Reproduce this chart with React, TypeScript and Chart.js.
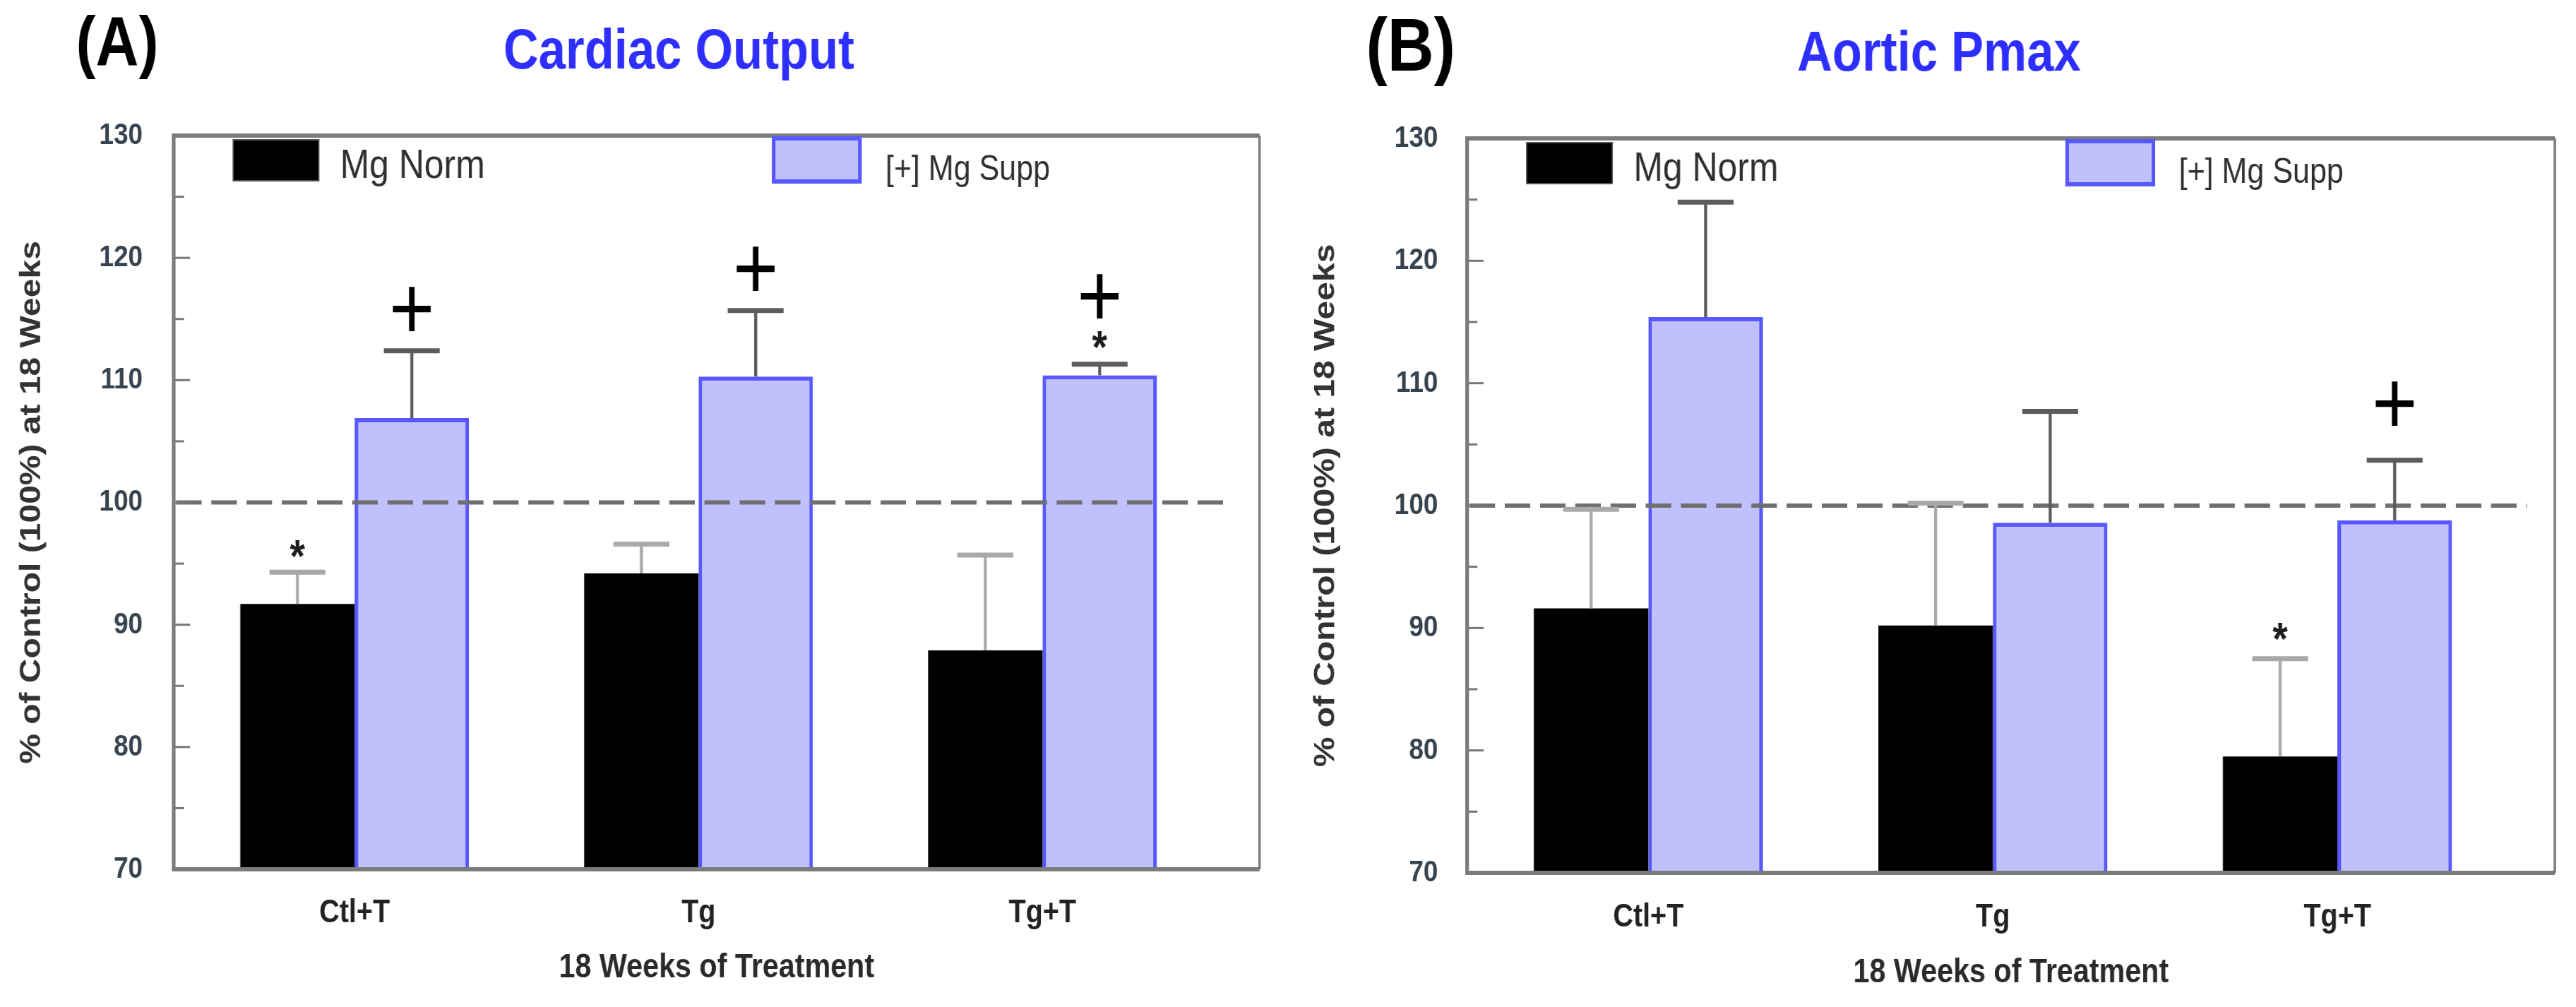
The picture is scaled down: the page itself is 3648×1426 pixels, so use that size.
import React, { useEffect, useRef } from "react";
import { Chart, registerables } from "chart.js";

Chart.register(...registerables);

// ---------- data ----------
const categories = ["Ctl+T", "Tg", "Tg+T"];
const seriesLabels = ["Mg Norm", "[+] Mg Supp"];
const yMin = 70;
const yMax = 130;
const yStep = 10;
const refValue = 100;

// Panel A: Cardiac Output
const coNorm = [91.7, 94.2, 87.9];
const coNormErr = [94.3, 96.6, 95.7];
const coSupp = [106.9, 110.3, 110.4];
const coSuppErr = [112.4, 115.7, 111.3];
const coPlusSupp = [115.9, 119.2, 116.9];
const coStarNorm = [96.4, null, null];
const coStarSupp = [null, null, 113.5];

// Panel B: Aortic Pmax
const apNorm = [91.6, 90.2, 79.5];
const apNormErr = [99.7, 100.2, 87.5];
const apSupp = [115.4, 98.6, 98.8];
const apSuppErr = [124.8, 107.7, 103.7];
const apPlusSupp = [null, null, 108.4];
const apStarNorm = [null, null, 89.9];
const apStarSupp = [null, null, null];

// ---------- layout / style ----------
const SQ = 0.86; // horizontal compression of the original figure
const PAGE_W = 3648;
const PAGE_H = 1426;
const CW = Math.round(PAGE_W / 2 / SQ);
const FONT = "'Liberation Sans', Arial, Helvetica, sans-serif";
const BLUE_FILL = "rgb(192,192,252)";
const BLUE_EDGE = "rgb(88,88,255)";

type PanelCfg = {
  offset: number;
  plotLeft: number;
  plotTop: number;
  plotBottom: number;
  rightPad: number;
  yTickPad: number;
  yTitlePad: number;
  xTickPad: number;
  xTitlePad: number;
  tag: string;
  tagX: number;
  tagY: number;
  tagSize: number;
  title: string;
  titleX: number;
  titleY: number;
  norm: number[];
  normErr: number[];
  supp: number[];
  suppErr: number[];
  plus: (number | null)[][];
  star: (number | null)[][];
};

const panels: PanelCfg[] = [
  {
    offset: 0,
    plotLeft: 286,
    plotTop: 192,
    plotBottom: 1231,
    rightPad: 47,
    yTickPad: 51,
    yTitlePad: 24,
    xTickPad: 35,
    xTitlePad: 26,
    tag: "(A)",
    tagX: 193,
    tagY: 92,
    tagSize: 98,
    title: "Cardiac Output",
    titleX: 1118,
    titleY: 97,
    norm: coNorm,
    normErr: coNormErr,
    supp: coSupp,
    suppErr: coSuppErr,
    plus: [[null, null, null], coPlusSupp],
    star: [coStarNorm, coStarSupp],
  },
  {
    offset: PAGE_W / 2,
    plotLeft: 295,
    plotTop: 196,
    plotBottom: 1236,
    rightPad: 35,
    yTickPad: 48,
    yTitlePad: 34,
    xTickPad: 36,
    xTitlePad: 19,
    tag: "(B)",
    tagX: 202,
    tagY: 100,
    tagSize: 106,
    title: "Aortic Pmax",
    titleX: 1072,
    titleY: 100,
    norm: apNorm,
    normErr: apNormErr,
    supp: apSupp,
    suppErr: apSuppErr,
    plus: [[null, null, null], apPlusSupp],
    star: [apStarNorm, apStarSupp],
  },
];

function decorPlugin(p: PanelCfg) {
  const errs = [p.normErr, p.suppErr];
  const errColors = ["#a9a9a9", "#5c5c5c"];
  return {
    id: "panelDecor",
    afterDatasetsDraw(chart: any) {
      const ctx = chart.ctx as CanvasRenderingContext2D;
      const { left, right, top, bottom } = chart.chartArea;
      const ys = chart.scales.y;
      ctx.save();

      // reference dashed line at 100 %
      const yr = ys.getPixelForValue(refValue);
      ctx.beginPath();
      ctx.setLineDash([42, 16]);
      ctx.lineWidth = 6;
      ctx.strokeStyle = "#6f6f6f";
      ctx.moveTo(left + 4, yr);
      ctx.lineTo(right - 46, yr);
      ctx.stroke();
      ctx.setLineDash([]);

      // error bars (upper only)
      errs.forEach((arr, di) => {
        const meta = chart.getDatasetMeta(di);
        meta.data.forEach((bar: any, i: number) => {
          const v = arr[i];
          if (v == null) return;
          const yc = ys.getPixelForValue(v);
          ctx.strokeStyle = errColors[di];
          ctx.lineWidth = 5;
          ctx.beginPath();
          ctx.moveTo(bar.x, bar.y);
          ctx.lineTo(bar.x, yc);
          ctx.stroke();
          ctx.lineWidth = 7;
          ctx.beginPath();
          ctx.moveTo(bar.x - 46, yc);
          ctx.lineTo(bar.x + 46, yc);
          ctx.stroke();
        });
      });

      // significance marks
      ctx.textAlign = "center";
      ctx.textBaseline = "alphabetic";
      p.plus.forEach((arr, di) => {
        const meta = chart.getDatasetMeta(di);
        arr.forEach((v, i) => {
          if (v == null) return;
          const bar = meta.data[i];
          ctx.fillStyle = "#000";
          ctx.font = `normal 128px ${FONT}`;
          ctx.fillText("+", bar.x, ys.getPixelForValue(v) + 0.34 * 128);
        });
      });
      p.star.forEach((arr, di) => {
        const meta = chart.getDatasetMeta(di);
        arr.forEach((v, i) => {
          if (v == null) return;
          const bar = meta.data[i];
          ctx.fillStyle = "#1e1e1e";
          ctx.font = `bold 64px ${FONT}`;
          ctx.fillText("*", bar.x, ys.getPixelForValue(v) + 0.56 * 64);
        });
      });

      // minor / major inside ticks on the left axis
      ctx.strokeStyle = "#777";
      ctx.lineWidth = 3;
      for (let v = yMin + 5; v < yMax; v += 5) {
        const yy = ys.getPixelForValue(v);
        const len = v % 10 === 0 ? 27 : 17;
        ctx.beginPath();
        ctx.moveTo(left, yy);
        ctx.lineTo(left + len, yy);
        ctx.stroke();
      }

      // frame
      ctx.strokeStyle = "#7b7b7b";
      ctx.lineWidth = 6;
      ctx.beginPath();
      ctx.moveTo(right, top);
      ctx.lineTo(left, top);
      ctx.lineTo(left, bottom);
      ctx.lineTo(right, bottom);
      ctx.stroke();
      ctx.lineWidth = 4;
      ctx.beginPath();
      ctx.moveTo(right, top);
      ctx.lineTo(right, bottom);
      ctx.stroke();

      // legend (inside plot area)
      const ds = chart.data.datasets;
      ctx.fillStyle = ds[0].backgroundColor;
      ctx.fillRect(left + 98, top + 6, 141, 58);
      ctx.strokeStyle = "#555";
      ctx.lineWidth = 2;
      ctx.strokeRect(left + 98, top + 6, 141, 58);
      ctx.fillStyle = ds[1].backgroundColor;
      ctx.fillRect(left + 988, top + 4, 142, 61);
      ctx.strokeStyle = ds[1].borderColor;
      ctx.lineWidth = 6;
      ctx.strokeRect(left + 988, top + 4, 142, 61);

      ctx.textAlign = "left";
      ctx.fillStyle = "#303030";
      ctx.font = `normal 58px ${FONT}`;
      ctx.fillText(ds[0].label, left + 274, top + 60);
      ctx.font = `normal 50px ${FONT}`;
      ctx.fillText(ds[1].label, left + 1172, top + 63);

      ctx.restore();
    },
    afterDraw(chart: any) {
      const ctx = chart.ctx as CanvasRenderingContext2D;
      ctx.save();
      ctx.textAlign = "center";
      ctx.textBaseline = "alphabetic";
      ctx.fillStyle = "#000";
      ctx.font = `bold ${p.tagSize}px ${FONT}`;
      ctx.fillText(p.tag, p.tagX, p.tagY);
      ctx.fillStyle = "#2e2eff";
      ctx.font = `bold 80px ${FONT}`;
      ctx.fillText(p.title, p.titleX, p.titleY);
      ctx.restore();
    },
  };
}

function Panel({ p }: { p: PanelCfg }) {
  const ref = useRef<HTMLCanvasElement | null>(null);
  useEffect(() => {
    if (!ref.current) return;
    const toXY = (arr: number[]) => arr.map((v, i) => ({ x: i + 1, y: v }));
    const chart = new Chart(ref.current, {
      type: "bar",
      data: {
        datasets: [
          {
            label: seriesLabels[0],
            data: toXY(p.norm),
            backgroundColor: "#000000",
            borderWidth: 0,
            categoryPercentage: 0.665,
            barPercentage: 1,
          },
          {
            label: seriesLabels[1],
            data: toXY(p.supp),
            backgroundColor: BLUE_FILL,
            borderColor: BLUE_EDGE,
            borderWidth: 6,
            borderSkipped: "bottom",
            categoryPercentage: 0.665,
            barPercentage: 1,
          },
        ] as any,
      },
      options: {
        animation: false,
        responsive: false,
        events: [],
        layout: { padding: { left: 0, top: p.plotTop, right: p.rightPad, bottom: 0 } },
        plugins: { legend: { display: false }, tooltip: { enabled: false }, title: { display: false } },
        scales: {
          x: {
            type: "linear",
            offset: false,
            bounds: "ticks",
            min: 0.474,
            max: 3.631,
            afterBuildTicks: (s: any) => {
              s.ticks = categories.map((_, i) => ({ value: i + 1 }));
            },
            afterFit: (s: any) => {
              s.height = PAGE_H - p.plotBottom;
            },
            ticks: {
              autoSkip: false,
              maxRotation: 0,
              padding: p.xTickPad,
              color: "#222",
              font: { family: FONT, size: 46, weight: "bold" },
              callback: (v: any) => categories[Math.round(Number(v)) - 1] ?? "",
            },
            grid: { display: false, drawTicks: false, offset: false },
            border: { display: false },
            title: {
              display: true,
              text: "18 Weeks of Treatment",
              color: "#2a2a2a",
              font: { family: FONT, size: 48, weight: "bold" },
              padding: { top: 0, bottom: p.xTitlePad },
            },
          },
          y: {
            min: yMin,
            max: yMax,
            afterFit: (s: any) => {
              s.width = p.plotLeft;
            },
            ticks: {
              stepSize: yStep,
              padding: p.yTickPad,
              color: "#36434f",
              font: { family: FONT, size: 43, weight: "bold" },
            },
            grid: { display: false, drawTicks: false },
            border: { display: false },
            title: {
              display: true,
              text: "% of Control (100%) at 18 Weeks",
              color: "#333",
              font: { family: FONT, size: 48, weight: "bold" },
              padding: { top: p.yTitlePad, bottom: 0 },
            },
          },
        },
      } as any,
      plugins: [decorPlugin(p)],
    });
    return () => chart.destroy();
  }, [p]);
  return (
    <canvas
      ref={ref}
      width={CW}
      height={PAGE_H}
      style={{
        position: "absolute",
        left: p.offset,
        top: 0,
        width: CW,
        height: PAGE_H,
        transform: `scaleX(${SQ})`,
        transformOrigin: "0 0",
      }}
    />
  );
}

export default function App() {
  return (
    <div
      style={{
        position: "absolute",
        left: 0,
        top: 0,
        width: PAGE_W,
        height: PAGE_H,
        background: "#ffffff",
        overflow: "hidden",
      }}
    >
      {panels.map((p, i) => (
        <Panel key={i} p={p} />
      ))}
    </div>
  );
}
